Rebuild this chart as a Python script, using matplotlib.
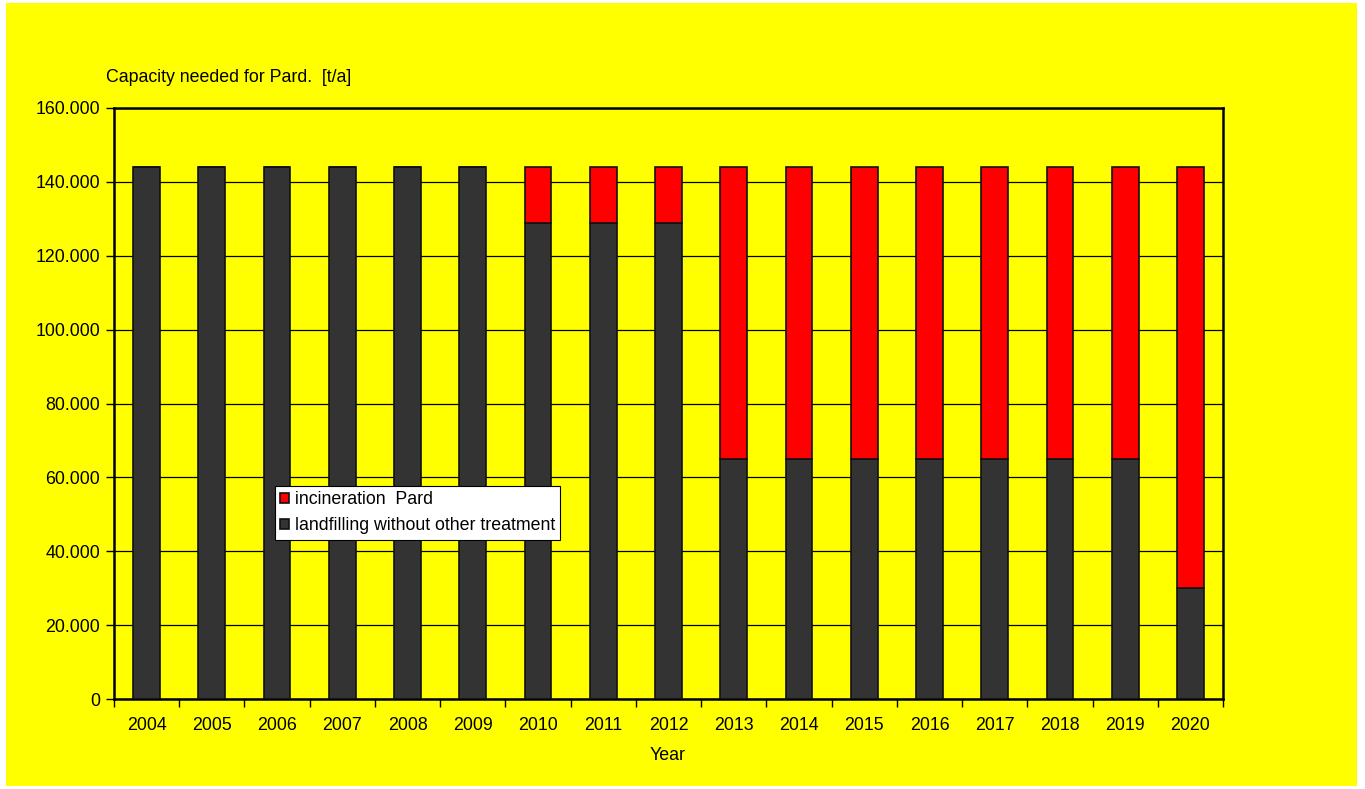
import matplotlib.pyplot as plt
import matplotlib.patches as mpatches
from matplotlib.ticker import FuncFormatter, FixedLocator
import numpy as np

plt.rcParams['font.family'] = ['Liberation Sans', 'DejaVu Sans']

years = [str(y) for y in range(2004, 2021)]
landfilling = [144000, 144000, 144000, 144000, 144000, 144000,
               129000, 129000, 129000,
               65000, 65000, 65000, 65000, 65000, 65000, 65000,
               30000]
incineration = [0, 0, 0, 0, 0, 0,
                15000, 15000, 15000,
                79000, 79000, 79000, 79000, 79000, 79000, 79000,
                114000]

W, H = 1365, 789
fig = plt.figure(figsize=(W / 100, H / 100), dpi=100)
fig.patch.set_facecolor('white')
# yellow chart area behind everything
bg = mpatches.Rectangle((6 / W, 1 - 786 / H), (1357 - 6) / W, (786 - 3) / H,
                        transform=fig.transFigure, facecolor='#FFFF00',
                        edgecolor='none', zorder=-10)
fig.add_artist(bg)

ax = fig.add_axes([114 / W, 1 - 699 / H, (1223 - 114) / W, (699 - 108) / H])
ax.set_facecolor('#FFFF00')

x = np.arange(len(years))
bw = 0.41
ax.bar(x, landfilling, bw, color='#333333', edgecolor='#111111', linewidth=1.2,
       label='landfilling without other treatment', zorder=3)
ax.bar(x, incineration, bw, bottom=landfilling, color='#FF0000', edgecolor='#111111',
       linewidth=1.2, label='incineration  Pard', zorder=3)

ax.set_xlim(-0.5, len(years) - 0.5)
ax.set_ylim(0, 160000)
ax.yaxis.set_major_locator(FixedLocator(np.arange(0, 160001, 20000)))
ax.yaxis.set_major_formatter(FuncFormatter(lambda v, p: f"{int(v):,}".replace(',', '.')))
ax.grid(axis='y', color='black', linewidth=0.9, zorder=1)

ax.set_xticks(x)
ax.set_xticklabels(years)
ax.set_xticks(np.arange(-0.5, len(years), 1.0), minor=True)
ax.tick_params(axis='x', which='major', length=0, pad=13, labelsize=12.8)
ax.tick_params(axis='x', which='minor', length=6, width=1, direction='out')
ax.tick_params(axis='y', length=6, width=1, direction='out', labelsize=12.8, pad=4)

for s in ax.spines.values():
    s.set_linewidth(1.8)
    s.set_color('black')

fig.text(106 / W, 1 - 78 / H, 'Capacity needed for Pard.  [t/a]', fontsize=12.8,
         ha='left', va='center')
fig.text(668 / W, 1 - 755 / H, 'Year', fontsize=12.8, ha='center', va='center')

handles, labels = ax.get_legend_handles_labels()
leg = ax.legend(handles[::-1], labels[::-1], loc='upper left',
                bbox_to_anchor=((275 - 114) / (1223 - 114), (699 - 486) / (699 - 108)),
                frameon=True, fancybox=False, framealpha=1, edgecolor='black',
                fontsize=12.8, handlelength=0.5, handleheight=0.5, handletextpad=0.3,
                borderpad=0.3, labelspacing=0.5, borderaxespad=0)
leg.get_frame().set_linewidth(0.8)
leg.set_zorder(5)

fig.savefig('out.png', dpi=100, facecolor=fig.get_facecolor())
